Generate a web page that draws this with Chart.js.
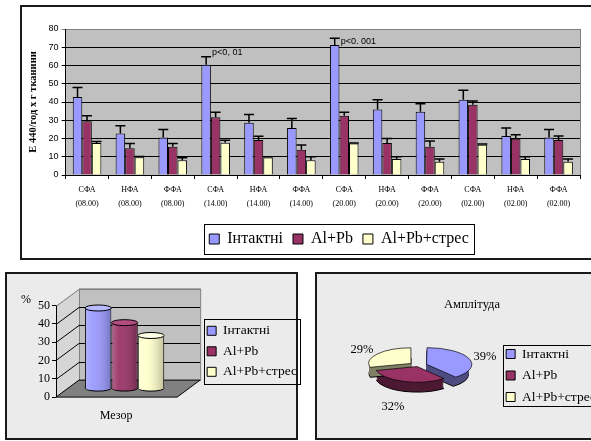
<!DOCTYPE html>
<html>
<head>
<meta charset="utf-8">
<script src="https://cdn.jsdelivr.net/npm/chart.js@4.4.1/dist/chart.umd.min.js"></script>
<style>
  html, body { margin: 0; padding: 0; background: #fff; width: 591px; height: 441px; overflow: hidden; position: relative; }
  .panel { position: absolute; box-sizing: border-box; border: 2px solid #1a1a1a; }
  canvas { position: absolute; }
</style>
</head>
<body>
<div class="panel" style="left:20px;top:5px;width:600px;height:255px;background:#fff"></div>
<div class="panel" style="left:5px;top:272px;width:293px;height:168px;background:#ebebeb"></div>
<div class="panel" style="left:315px;top:272px;width:300px;height:168px;background:#ebebeb"></div>
<canvas id="main" width="569" height="254" style="left:22px;top:7px"></canvas>
<canvas id="mesor" width="300" height="164" style="left:7px;top:274px"></canvas>
<canvas id="amp" width="290" height="166" style="left:316px;top:273px"></canvas>

<script>
// ---- data ----
const seriesNames = ['Інтактні', 'Al+Pb', 'Al+Pb+стрес'];
const seriesColors = ['#9999FF', '#993366', '#FFFFCC'];

const fractions = ['СФА', 'НФА', 'ФФА', 'СФА', 'НФА', 'ФФА', 'СФА', 'НФА', 'ФФА', 'СФА', 'НФА', 'ФФА'];
const times = ['(08.00)', '(08.00)', '(08.00)', '(14.00)', '(14.00)', '(14.00)',
               '(20.00)', '(20.00)', '(20.00)', '(02.00)', '(02.00)', '(02.00)'];

const intactValues = [42.7, 22.8, 20.6, 60.4, 28.6, 25.8, 71.3, 35.9, 34.6, 41.3, 21.4, 20.6];
const alPbValues   = [29.5, 14.7, 15.5, 31.7, 19.2, 13.8, 32.4, 17.5, 15.5, 38.5, 19.9, 19.2];
const stressValues = [17.5,  9.7,  8.1, 17.7,  9.6,  8.1, 17.3,  8.8,  7.2, 16.6,  8.8,  7.2];

const intactErrors = [5.3, 4.2, 4.4, 4.4, 4.6, 5.2, 3.7, 5.4, 4.4, 5.1, 4.4, 4.4];
const alPbErrors   = [2.9, 2.6, 1.8, 2.7, 2.0, 2.6, 2.0, 2.5, 3.1, 2.0, 2.2, 2.2];
const stressErrors = [0.8, 0.4, 1.4, 1.3, 0.4, 1.9, 0.3, 1.2, 1.5, 0.4, 1.2, 1.6];

const yTicksMain = [0, 10, 20, 30, 40, 50, 60, 70, 80];
const significance = [
  { index: 3, text: 'p<0, 01', dy: -4 },
  { index: 6, text: 'p<0. 001', dy: 3 },
];

const mesorLabels = ['Мезор'];
const mesorValues = [44, 36, 29];
const mesorTicks = [0, 10, 20, 30, 40, 50];

const amplitudeValues = [39, 32, 29];

const SERIF = "'Liberation Serif', 'Times New Roman', serif";
const SANS = "'Liberation Sans', Arial, sans-serif";
Chart.defaults.color = '#000';
Chart.defaults.font.family = SERIF;

// chart area background + right edge
const plotBg = {
  id: 'plotBg',
  beforeDraw(chart, args, o) {
    const { ctx, chartArea: a } = chart;
    ctx.save();
    ctx.fillStyle = o.color;
    ctx.fillRect(a.left, a.top, a.width, a.height);
    ctx.strokeStyle = o.edge;
    ctx.lineWidth = 1;
    ctx.beginPath();
    ctx.moveTo(a.right + 0.5, a.top);
    ctx.lineTo(a.right + 0.5, a.bottom);
    ctx.stroke();
    ctx.restore();
  }
};

// upper error bars and p-value notes
const errorBars = {
  id: 'errorBars',
  afterDatasetsDraw(chart, args, o) {
    const { ctx } = chart;
    const y = chart.scales.y;
    ctx.save();
    ctx.strokeStyle = '#000';
    ctx.lineWidth = 1.5;
    o.errors.forEach((errs, di) => {
      const meta = chart.getDatasetMeta(di);
      const vals = chart.data.datasets[di].data;
      meta.data.forEach((bar, j) => {
        const top = y.getPixelForValue(vals[j] + errs[j]);
        ctx.beginPath();
        ctx.moveTo(bar.x, bar.y);
        ctx.lineTo(bar.x, top);
        ctx.moveTo(bar.x - o.cap, top);
        ctx.lineTo(bar.x + o.cap, top);
        ctx.stroke();
      });
    });
    ctx.font = o.font;
    ctx.fillStyle = '#000';
    ctx.textBaseline = 'middle';
    o.notes.forEach(n => {
      const bar = chart.getDatasetMeta(0).data[n.index];
      const top = y.getPixelForValue(intactValues[n.index] + intactErrors[n.index]);
      ctx.fillText(n.text, bar.x + o.cap + 1, top + n.dy);
    });
    ctx.restore();
  }
};

// thin frame round the legend items (optionally nudging the legend sideways)
const legendFrame = {
  id: 'legendFrame',
  afterLayout(chart, args, o) {
    if (o.shiftX && chart.legend) {
      chart.legend.left += o.shiftX;
      chart.legend.right += o.shiftX;
    }
  },
  afterDraw(chart, args, o) {
    const boxes = chart.legend && chart.legend.legendHitBoxes;
    if (!boxes || !boxes.length) return;
    let l = Infinity, t = Infinity, r = -Infinity, b = -Infinity;
    boxes.forEach(h => {
      l = Math.min(l, h.left); t = Math.min(t, h.top);
      r = Math.max(r, h.left + h.width); b = Math.max(b, h.top + h.height);
    });
    const ctx = chart.ctx;
    ctx.save();
    ctx.strokeStyle = '#000';
    ctx.lineWidth = 1;
    ctx.strokeRect(Math.round(l - o.padX) + 0.5, Math.round(t - o.padY) + 0.5,
      Math.round(r - l + o.padX * 2), Math.round(b - t + o.padY * 2));
    ctx.restore();
  }
};

const mainDatasets = [intactValues, alPbValues, stressValues].map((d, i) => ({
  label: seriesNames[i],
  data: d,
  backgroundColor: seriesColors[i],
  borderColor: '#000',
  borderWidth: 1,
  categoryPercentage: 0.667,
  barPercentage: 1,
}));

new Chart(document.getElementById('main'), {
  type: 'bar',
  data: {
    labels: fractions.map((f, i) => [f, times[i]]),
    datasets: mainDatasets,
  },
  options: {
    responsive: false,
    animation: false,
    layout: { padding: { left: 4, top: 22, right: 11, bottom: 4 } },
    scales: {
      x: {
        grid: { drawOnChartArea: false, tickLength: 4, color: '#000' },
        border: { color: '#000', width: 1 },
        ticks: { font: { family: SERIF, size: 8, lineHeight: 1.75 }, padding: 4, maxRotation: 0, autoSkip: false },
        afterFit(scale) { scale.height += 6; },
      },
      y: {
        min: 0, max: 80,
        afterBuildTicks(scale) { scale.ticks = yTicksMain.map(v => ({ value: v })); },
        grid: {
          color: c => (c.tick && c.tick.value === 80 ? '#808080' : '#000'),
          tickLength: 4,
        },
        border: { color: '#000', width: 1 },
        ticks: { font: { family: SANS, size: 9 }, padding: 3 },
        title: {
          display: true,
          text: 'E 440/год х г тканини',
          font: { family: SERIF, size: 10.5, weight: 'bold' },
          padding: { top: 1, bottom: 6 },
        },
      },
    },
    plugins: {
      legend: {
        position: 'bottom',
        labels: { boxWidth: 10, boxHeight: 10, padding: 10, font: { family: SERIF, size: 16 } },
      },
      tooltip: { enabled: false },
      plotBg: { color: '#C0C0C0', edge: '#808080' },
      errorBars: {
        errors: [intactErrors, alPbErrors, stressErrors],
        cap: 5,
        notes: significance,
        font: '9px ' + SANS,
      },
      legendFrame: { padX: 5, padY: 7, shiftX: 36 },
    },
  },
  plugins: [plotBg, errorBars, legendFrame],
});

// ---- 3D column chart (Мезор) ----
const mesorShade = ['#b9b9ff', '#b24d80', '#ffffe8'];

const mesor3d = {
  id: 'mesor3d',
  beforeDatasetsDraw(chart, args, o) {
    const { ctx, chartArea: a } = chart;
    const y = chart.scales.y;
    const dx = o.depthX, dy = o.depthY;
    const y0 = y.getPixelForValue(0), yTop = y.getPixelForValue(y.max);
    ctx.save();
    ctx.lineWidth = 1;
    // left side wall
    ctx.fillStyle = o.side;
    ctx.beginPath();
    ctx.moveTo(a.left, y0); ctx.lineTo(a.left, yTop);
    ctx.lineTo(a.left + dx, yTop + dy); ctx.lineTo(a.left + dx, y0 + dy);
    ctx.closePath(); ctx.fill();
    // back wall
    ctx.fillStyle = o.wall;
    ctx.fillRect(a.left + dx, yTop + dy, a.right - a.left - dx, y0 - yTop);
    ctx.strokeStyle = '#808080';
    ctx.strokeRect(a.left + dx + 0.5, yTop + dy + 0.5, a.right - a.left - dx, y0 - yTop);
    // floor
    ctx.fillStyle = o.floor;
    ctx.strokeStyle = '#000';
    ctx.beginPath();
    ctx.moveTo(a.left, y0); ctx.lineTo(a.right - dx, y0);
    ctx.lineTo(a.right, y0 + dy); ctx.lineTo(a.left + dx, y0 + dy);
    ctx.closePath(); ctx.fill(); ctx.stroke();
    // grid lines: side wall diagonals + back wall
    y.ticks.forEach(t => {
      if (t.value === 0) return;
      const py = Math.round(y.getPixelForValue(t.value)) + 0.5;
      ctx.strokeStyle = t.value === y.max ? '#808080' : '#000';
      ctx.beginPath();
      ctx.moveTo(a.left, py);
      ctx.lineTo(a.left + dx, py + dy);
      ctx.lineTo(a.right, py + dy);
      ctx.stroke();
    });
    // front vertical axis
    ctx.strokeStyle = '#000';
    ctx.beginPath();
    ctx.moveTo(a.left + 0.5, y0); ctx.lineTo(a.left + 0.5, yTop);
    ctx.stroke();
    ctx.restore();
    ctx.save();
    ctx.translate(o.barShiftX, o.barShiftY);
  },
  afterDatasetsDraw(chart, args, o) {
    const ctx = chart.ctx;
    chart.data.datasets.forEach((ds, di) => {
      chart.getDatasetMeta(di).data.forEach(bar => {
        const w = bar.width, x = bar.x, top = bar.y, base = bar.base;
        // bottom rim
        ctx.beginPath();
        ctx.ellipse(x, base, w / 2, o.rim, 0, 0, Math.PI);
        ctx.fillStyle = ds.backgroundColor;
        ctx.fill();
        ctx.strokeStyle = '#000'; ctx.lineWidth = 1; ctx.stroke();
        // cylinder shading
        const g = ctx.createLinearGradient(x - w / 2, 0, x + w / 2, 0);
        g.addColorStop(0, 'rgba(255,255,255,0.25)');
        g.addColorStop(0.3, 'rgba(255,255,255,0.05)');
        g.addColorStop(1, 'rgba(0,0,0,0.25)');
        ctx.fillStyle = g;
        ctx.fillRect(x - w / 2 + 1, top, w - 2, base - top + o.rim - 1);
        // top cap
        ctx.beginPath();
        ctx.ellipse(x, top, w / 2, o.rim, 0, 0, Math.PI * 2);
        ctx.fillStyle = mesorShade[di];
        ctx.fill();
        ctx.stroke();
      });
    });
    ctx.restore();
  },
  afterDraw(chart, args, o) {
    const { ctx } = chart;
    const y = chart.scales.y;
    ctx.save();
    ctx.font = '12px ' + SERIF;
    ctx.fillStyle = '#000';
    ctx.textAlign = 'right';
    ctx.textBaseline = 'middle';
    ctx.fillText('%', y.left - 5, y.getPixelForValue(y.max) - 6);
    ctx.restore();
  }
};

new Chart(document.getElementById('mesor'), {
  type: 'bar',
  data: {
    labels: mesorLabels,
    datasets: mesorValues.map((v, i) => ({
      label: seriesNames[i],
      data: [v],
      backgroundColor: seriesColors[i],
      borderColor: '#000',
      borderWidth: 1,
      categoryPercentage: 0.55,
      barPercentage: 1,
    })),
  },
  options: {
    responsive: false,
    animation: false,
    layout: { padding: { left: 29, top: 31.5, right: 0, bottom: 10.5 } },
    scales: {
      x: {
        grid: { display: false },
        border: { display: false },
        ticks: { font: { family: SERIF, size: 12 }, padding: 4, labelOffset: -12 },
      },
      y: {
        min: 0, max: 50,
        afterBuildTicks(scale) { scale.ticks = mesorTicks.map(v => ({ value: v })); },
        grid: { drawOnChartArea: false, tickLength: 4, color: '#000' },
        border: { display: false },
        ticks: { font: { family: SERIF, size: 12 }, padding: 2, autoSkip: false },
      },
    },
    plugins: {
      legend: {
        position: 'right',
        fullSize: false,
        maxWidth: 120,
        labels: { boxWidth: 9, boxHeight: 9, padding: 7, font: { family: SERIF, size: 13.5 } },
      },
      tooltip: { enabled: false },
      mesor3d: { depthX: 23, depthY: -17, barShiftX: -3.5, barShiftY: -8.5, rim: 3, side: '#d6d6d6', wall: '#c0c0c0', floor: '#808080' },
      legendFrame: { padX: 3, padY: 5 },
    },
  },
  plugins: [mesor3d, legendFrame],
});

// ---- 3D pie (Амплітуда) ----
function arcCentre(arc, k, cy) {
  const off = (arc.options.offset || 0) / 4;
  const mid = (arc.startAngle + arc.endAngle) / 2;
  return { x: arc.x + Math.cos(mid) * off, y: cy + (arc.y + Math.sin(mid) * off - cy) * k };
}

const pie3d = {
  id: 'pie3d',
  beforeDatasetsDraw(chart, args, o) {
    const ctx = chart.ctx;
    const arcs = chart.getDatasetMeta(0).data;
    const cy = arcs[0].y;
    ctx.save();
    ctx.translate(0, -o.lift);
    arcs.forEach((arc, i) => {
      const c = arcCentre(arc, o.squash, cy);
      const rx = arc.outerRadius, ry = arc.outerRadius * o.squash;
      for (let d = o.depth; d >= 1; d--) {
        ctx.beginPath();
        ctx.moveTo(c.x, c.y + d);
        ctx.ellipse(c.x, c.y + d, rx, ry, 0, arc.startAngle, arc.endAngle);
        ctx.closePath();
        ctx.fillStyle = o.sides[i];
        ctx.fill();
        if (d === o.depth) { ctx.strokeStyle = '#000'; ctx.lineWidth = 1; ctx.stroke(); }
      }
    });
    ctx.translate(0, cy);
    ctx.scale(1, o.squash);
    ctx.translate(0, -cy);
  },
  afterDatasetsDraw(chart, args, o) {
    const ctx = chart.ctx;
    ctx.restore();
    const arcs = chart.getDatasetMeta(0).data;
    const vals = chart.data.datasets[0].data;
    const total = vals.reduce((s, v) => s + v, 0);
    const cy = arcs[0].y;
    ctx.save();
    ctx.font = '12.5px ' + SERIF;
    ctx.fillStyle = '#000';
    ctx.textAlign = 'center';
    ctx.textBaseline = 'middle';
    arcs.forEach((arc, i) => {
      const c = arcCentre(arc, o.squash, cy);
      const mid = (arc.startAngle + arc.endAngle) / 2;
      const r = arc.outerRadius + o.labelGap;
      const below = Math.sin(mid) > 0;
      const lx = c.x + Math.cos(mid) * r - (below ? 5 : 0);
      const ly = c.y + Math.sin(mid) * r * o.squash + (below ? o.depth + 8 : 0) - o.lift;
      ctx.fillText(Math.round(vals[i] / total * 100) + '%', lx, ly);
    });
    ctx.restore();
  }
};

new Chart(document.getElementById('amp'), {
  type: 'pie',
  data: {
    labels: seriesNames,
    datasets: [{
      data: amplitudeValues,
      backgroundColor: seriesColors,
      borderColor: '#000',
      borderWidth: 1,
      offset: [36, 12, 36],
      radius: 42,
    }],
  },
  options: {
    responsive: false,
    animation: false,
    radius: 42,
    layout: { padding: { left: 22 } },
    plugins: {
      title: { display: true, text: 'Амплітуда', font: { family: SERIF, size: 12.5, weight: 'normal' }, padding: { top: 24, bottom: 0 } },
      legend: {
        position: 'right',
        fullSize: false,
        maxWidth: 120,
        labels: { boxWidth: 9, boxHeight: 9, padding: 8, font: { family: SERIF, size: 13.5 } },
      },
      tooltip: { enabled: false },
      pie3d: { squash: 0.37, depth: 10, lift: 10, labelGap: 20, sides: ['#4d4d80', '#4d1a33', '#808066'] },
      legendFrame: { padX: 3, padY: 2 },
    },
  },
  plugins: [pie3d, legendFrame],
});
</script>
</body>
</html>
